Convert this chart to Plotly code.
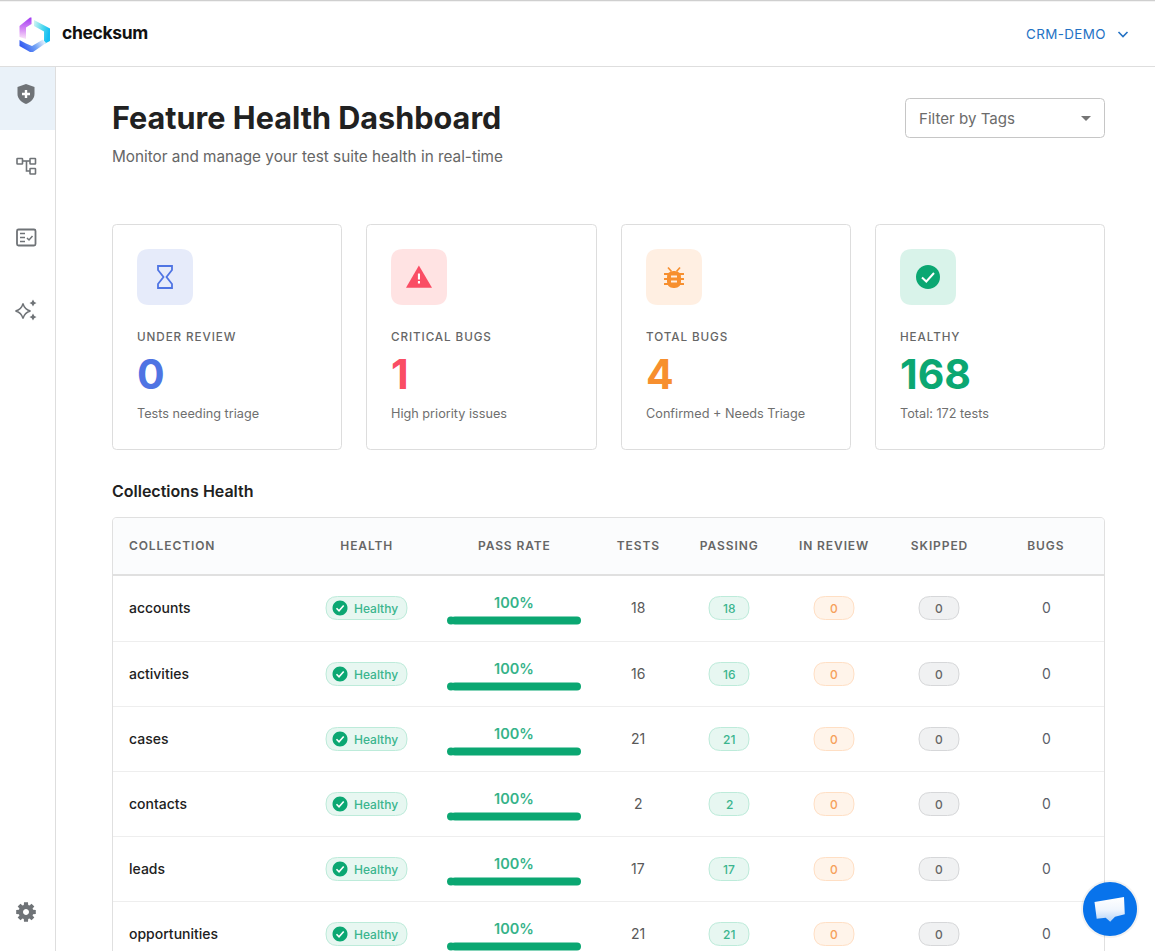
import base64
import math
import plotly.graph_objects as go

# chart data
collections = ["accounts", "activities", "cases", "contacts", "leads", "opportunities"]
pass_rate = [100, 100, 100, 100, 100, 100]
tests = [18, 16, 21, 2, 17, 21]
passing = [18, 16, 21, 2, 17, 21]
in_review = [0, 0, 0, 0, 0, 0]
skipped = [0, 0, 0, 0, 0, 0]
bugs = [0, 0, 0, 0, 0, 0]
health = ["Healthy", "Healthy", "Healthy", "Healthy", "Healthy", "Healthy"]

headers = ["COLLECTION", "HEALTH", "PASS RATE", "TESTS", "PASSING", "IN REVIEW", "SKIPPED", "BUGS"]

card_labels = ["UNDER REVIEW", "CRITICAL BUGS", "TOTAL BUGS", "HEALTHY"]
card_values = ["0", "1", "4", "168"]
card_notes = ["Tests needing triage", "High priority issues", "Confirmed + Needs Triage", "Total: 172 tests"]

# layout of the page, in screen pixels
W, H = 1155, 951
FONT = "Inter"
GREEN = "#0BA772"
GREY_ICON = "#6F7377"
card_left = [112.5, 366.5, 621.5, 875.5]
card_right = [341.5, 596.5, 850.5, 1104.5]
card_colors = ["#4F74E3", "#FA4D64", "#F78F2E", "#0BA772"]
card_tints = ["#E6EBFA", "#FFE3E3", "#FFEFE2", "#D9F3EA"]
row_y = [608, 674, 739, 804, 869, 934]
col_x = [129, 366.5, 514, 638, 729, 834, 939, 1046]
BAR_LEFT, BAR_RIGHT = 447, 581

shapes = []
notes = []


def add(path, fill="rgba(0,0,0,0)", line=None, w=1, layer="below"):
    shapes.append(dict(type="path", path=path, fillcolor=fill, layer=layer, xref="x", yref="y",
                       line=dict(color=line if line else "rgba(0,0,0,0)", width=w if line else 0)))


def rrect(x0, y0, x1, y1, r):
    return (f"M{x0+r},{y0} L{x1-r},{y0} Q{x1},{y0} {x1},{y0+r} L{x1},{y1-r} Q{x1},{y1} {x1-r},{y1} "
            f"L{x0+r},{y1} Q{x0},{y1} {x0},{y1-r} L{x0},{y0+r} Q{x0},{y0} {x0+r},{y0} Z")


def circle(cx, cy, r):
    k = r * 0.5523
    return (f"M{cx-r},{cy} C{cx-r},{cy-k} {cx-k},{cy-r} {cx},{cy-r} C{cx+k},{cy-r} {cx+r},{cy-k} {cx+r},{cy} "
            f"C{cx+r},{cy+k} {cx+k},{cy+r} {cx},{cy+r} C{cx-k},{cy+r} {cx-r},{cy+k} {cx-r},{cy} Z")


def poly(pts, close=True):
    p = "M" + " L".join(f"{x},{y}" for x, y in pts)
    return p + " Z" if close else p


def text(x, y, s, size, color, weight=400, anchor="left"):
    # annotations sit a little right and low of the given spot
    if anchor == "left":
        x -= 1.5
    notes.append(dict(x=x, y=y - 1, text=s, xref="x", yref="y", showarrow=False, xanchor=anchor, yanchor="middle",
                      align=anchor, borderpad=0, font=dict(family=FONT, size=size, color=color, weight=weight)))


def star(cx, cy, r):
    k = r * 0.2
    return (f"M{cx},{cy-r} Q{cx+k},{cy-k} {cx+r},{cy} Q{cx+k},{cy+k} {cx},{cy+r} "
            f"Q{cx-k},{cy+k} {cx-r},{cy} Q{cx-k},{cy-k} {cx},{cy-r} Z")


def gear(cx, cy, r, teeth=8):
    pts = []
    for i in range(teeth):
        a = 2 * math.pi * i / teeth
        for da, rad in [(-0.30, r * 0.74), (-0.20, r), (0.20, r), (0.30, r * 0.74)]:
            pts.append((cx + rad * math.cos(a + da), cy + rad * math.sin(a + da)))
    return poly(pts)


# top bar and side bar
add(poly([(0, 0.5), (W, 0.5)], False), line="#CFCFCF", w=1.5)
add(poly([(0, 66.5), (W, 66.5)], False), line="#DEDEDE", w=1)
add(rrect(0, 67, 55, 130, 0), fill="#EAF2F9")
add(poly([(55.5, 67), (55.5, H)], False), line="#DEDEDE", w=1)
text(62, 33.5, "checksum", 17.5, "#111111", 700)
text(1026, 35, "CRM-DEMO", 13.4, "#2472C4", 400)
add(poly([(1118.5, 32), (1123, 36.5), (1127.5, 32)], False), line="#2472C4", w=1.6)

# sidebar icons
add("M26,84 L34.5,87 L34.5,94 C34.5,98.5 31,102 26,104 C21,102 17.5,98.5 17.5,94 L17.5,87 Z", fill=GREY_ICON)
add(poly([(24.8, 90), (27.2, 90), (27.2, 92.8), (30, 92.8), (30, 95.2), (27.2, 95.2), (27.2, 98),
          (24.8, 98), (24.8, 95.2), (22, 95.2), (22, 92.8), (24.8, 92.8)]), fill="#FFFFFF")
add(rrect(17, 158.5, 22.5, 164, 0.5), line=GREY_ICON, w=1.6)
add(rrect(30, 158.5, 35.5, 164, 0.5), line=GREY_ICON, w=1.6)
add(rrect(30, 168.5, 35.5, 174, 0.5), line=GREY_ICON, w=1.6)
add(poly([(22.5, 161), (30, 161)], False), line=GREY_ICON, w=1.6)
add(poly([(26.5, 161), (26.5, 171), (30, 171)], False), line=GREY_ICON, w=1.6)
add(rrect(17, 229.5, 35.5, 245.5, 1.5), line=GREY_ICON, w=1.8)
for ly in (233.5, 237.5, 241.5):
    add(poly([(20, ly), (25, ly)], False), line=GREY_ICON, w=1.5)
add(poly([(27, 238), (29, 240), (32.5, 236)], False), line=GREY_ICON, w=1.5)
add(star(23, 311, 7.5), line=GREY_ICON, w=1.4)
add(star(33, 303, 3.5), fill=GREY_ICON)
add(star(33, 317, 3.5), fill=GREY_ICON)
add(gear(26, 912, 10), fill=GREY_ICON)
add(circle(26, 912, 3), fill="#FFFFFF")

# heading and filter box
text(112.5, 118.5, "Feature Health Dashboard", 30.6, "#212121", 700)
text(112.5, 157.5, "Monitor and manage your test suite health in real-time", 15.3, "#666666")
add(rrect(905.5, 98.5, 1104.5, 137.5, 4), fill="#FFFFFF", line="#C6C6C6", w=1)
text(919, 119, "Filter by Tags", 15.1, "#6B6B6B")
add(poly([(1081, 116), (1091, 116), (1086, 121)]), fill="#757575")

# stat cards
for i in range(4):
    x0, x1 = card_left[i], card_right[i]
    add(rrect(x0, 224.5, x1, 449.5, 4), fill="#FFFFFF", line="#DDDDDD", w=1)
    add(rrect(x0 + 24.5, 249, x0 + 80.5, 305, 12), fill=card_tints[i])
    text(x0 + 25, 338, card_labels[i], 11.7, "#666666", 500)
    text(x0 + 25, 375, card_values[i], 41, card_colors[i], 700)
    text(x0 + 25, 414.5, card_notes[i], 12.7, "#6F6F6F")

add("M158,266 L172,266 L172,270 L166.5,277 L172,284 L172,288 L158,288 L158,284 L163.5,277 L158,270 Z",
    line=card_colors[0], w=1.8)
add(poly([(418.9, 265.5), (432, 287.8), (406, 287.8)]), fill=card_colors[1])
add(rrect(417.9, 273.5, 420, 279.5, 0.3), fill="#FFFFFF")
add(rrect(417.9, 281, 420, 283.5, 0.3), fill="#FFFFFF")
add(rrect(667, 271, 681, 288, 6.5), fill=card_colors[2])
for ly in (274, 279, 284):
    add(rrect(664, ly - 1, 684, ly + 1, 0.3), fill=card_colors[2])
add(poly([(668, 267.5), (671.5, 271.5)], False), line=card_colors[2], w=1.6)
add(poly([(680, 267.5), (676.5, 271.5)], False), line=card_colors[2], w=1.6)
add(rrect(671, 275.5, 677, 277.5, 0.3), fill=card_tints[2])
add(rrect(671, 280.5, 677, 282.5, 0.3), fill=card_tints[2])
add(circle(928, 277, 12), fill=card_colors[3])
add(poly([(922, 277.5), (926.3, 281.5), (934, 273)], False), line="#FFFFFF", w=2)

# table frame
text(112.5, 491.5, "Collections Health", 16, "#212121", 600)
add(f"M112.5,{H+10} L112.5,522 Q112.5,517.5 117,517.5 L1100,517.5 Q1104.5,517.5 1104.5,522 L1104.5,{H+10} Z",
    fill="#FFFFFF", line="#E0E0E0", w=1)
add("M113,574 L113,522 Q113,518 117,518 L1100,518 Q1104,518 1104,522 L1104,574 Z", fill="#FBFCFD")
add(poly([(113, 575), (1104, 575)], False), line="#E0E0E0", w=2)
for i, h in enumerate(headers):
    text(col_x[i], 546, h, 12, "#666666", 600, "left" if i == 0 else "center")
for y in (641.5, 706.5, 771.5, 836.5, 901.5):
    add(poly([(113, y), (1104, y)], False), line="#EEEEEE", w=1)


def pill(cx, y, half, fill, edge):
    add(rrect(cx - half, y - 11.5, cx + half, y + 11.5, 11.5), fill=fill, line=edge, w=1)


for i, y in enumerate(row_y):
    text(col_x[0], y, collections[i], 14, "#212121", 500)

    pill(col_x[1], y, 40.5, "#E7F7F1", "#BDEBDA")
    add(circle(340, y, 7.5), fill=GREEN)
    add(poly([(336.5, y + 0.3), (339, y + 2.8), (343.7, y - 2.5)], False), line="#FFFFFF", w=1.6)
    text(375.5, y + 1, health[i], 12, "#3BB58E", 500, "center")

    text(col_x[2], y - 5, f"{pass_rate[i]}%", 14.5, "#35B389", 600, "center")
    text(col_x[3], y + 0.5, str(tests[i]), 14, "#595959", 400, "center")

    pill(col_x[4], y, 20, "#E7F7F1", "#BDEBDA")
    text(col_x[4], y + 1, str(passing[i]), 12, "#3BB58E", 500, "center")
    pill(col_x[5], y, 20, "#FFF4EA", "#FFDFC4")
    text(col_x[5], y + 1, str(in_review[i]), 12, "#F6A05A", 500, "center")
    pill(col_x[6], y, 20, "#F0F1F2", "#D6D7D9")
    text(col_x[6], y + 1, str(skipped[i]), 12, "#666666", 500, "center")
    text(col_x[7], y + 0.5, str(bugs[i]), 14, "#5B6068", 400, "center")

# chat button, the bubble image has to stay on top of it
add(circle(1110, 909, 29), fill="rgba(0,0,0,0.05)")
add(circle(1110, 909, 27), fill="#0873EB")

logo_svg = """<svg xmlns="http://www.w3.org/2000/svg" viewBox="19 16 32 37" width="320" height="370">
<defs>
<linearGradient id="a" x1="0" y1="0" x2="0" y2="1"><stop offset="0" stop-color="#A23BF2"/><stop offset="0.55" stop-color="#D68CF5"/><stop offset="1" stop-color="#FBE6F8"/></linearGradient>
<linearGradient id="b" x1="0" y1="0" x2="1" y2="0.3"><stop offset="0" stop-color="#D6F5F2"/><stop offset="0.6" stop-color="#4FD8EE"/><stop offset="1" stop-color="#13BDF2"/></linearGradient>
<linearGradient id="c" x1="0" y1="0.6" x2="1" y2="0.3"><stop offset="0" stop-color="#2B50F0"/><stop offset="0.55" stop-color="#6FA0F5"/><stop offset="1" stop-color="#E8F3FC"/></linearGradient>
</defs>
<path fill="url(#a)" d="M19.5,26 L30,17.5 L31.5,17.5 L31.5,24 L26,27.5 L26,39 L19.5,37 Z"/>
<path fill="url(#b)" d="M34,20 L50,28.5 L50,41 L44,44 L44,31.5 L34,26 Z"/>
<path fill="url(#c)" d="M19.5,40 L26,43.5 L32,46 L43,39.5 L46,43 L33,52 L30,52 L19.5,46 Z"/>
</svg>"""

bubble_svg = """<svg xmlns="http://www.w3.org/2000/svg" viewBox="1092 895 35 29" width="350" height="290">
<defs><linearGradient id="d" x1="0" y1="0" x2="0" y2="1"><stop offset="0" stop-color="#FFFFFF"/><stop offset="0.5" stop-color="#F0F6FE"/><stop offset="1" stop-color="#B4D3F7"/></linearGradient></defs>
<path fill="url(#d)" d="M1094.5,902 L1124,897 L1124.8,914.3 L1115,916.7 L1110.2,921.7 L1105.7,917.7 L1096.7,918.7 Z"/>
</svg>"""


def svg_src(s):
    return "data:image/svg+xml;base64," + base64.b64encode(s.encode()).decode()


images = [
    dict(source=svg_src(logo_svg), x=19, y=16, sizex=32, sizey=37, xref="x", yref="y", xanchor="left",
         yanchor="top", sizing="stretch", layer="above"),
    dict(source=svg_src(bubble_svg), x=1092, y=895, sizex=35, sizey=29, xref="x", yref="y", xanchor="left",
         yanchor="top", sizing="stretch", layer="above"),
]

# pass rate bars go through their own 0-100 axis
cap = 3
bar_y = [y + 12.5 for y in row_y]
fig = go.Figure()
fig.add_trace(go.Bar(x=[r - cap for r in pass_rate], base=cap, y=bar_y, orientation="h", width=8, xaxis="x2", yaxis="y",
                     marker=dict(color=GREEN, line=dict(width=0)), hoverinfo="skip", showlegend=False))
fig.add_trace(go.Scatter(x=[cap] * len(bar_y), y=bar_y, mode="markers", xaxis="x2", yaxis="y",
                         marker=dict(color=GREEN, size=8, line=dict(width=0)), hoverinfo="skip", showlegend=False))

fig.update_layout(
    width=W, height=H, margin=dict(l=0, r=0, t=0, b=0), autosize=False,
    paper_bgcolor="#FFFFFF", plot_bgcolor="rgba(0,0,0,0)", barcornerradius=4,
    xaxis=dict(range=[0, W], visible=False, fixedrange=True, domain=[0, 1]),
    xaxis2=dict(range=[0, 100], visible=False, fixedrange=True, anchor="y",
                domain=[BAR_LEFT / W, BAR_RIGHT / W]),
    yaxis=dict(range=[H, 0], visible=False, fixedrange=True, domain=[0, 1]),
    shapes=shapes, annotations=notes, images=images,
)

# letter spacing on the caps labels, plotly has no option for it
spacing = """
document.body.style.margin = '0';
document.body.style.overflow = 'hidden';
document.querySelectorAll('.annotation-text').forEach(function (t) {
    var s = t.textContent;
    if (s === 'CRM-DEMO') { t.style.letterSpacing = '0.4px'; }
    else if (s === 'checksum') { t.style.letterSpacing = '-0.35px'; }
    else if (s === s.toUpperCase() && /[A-Z]{3}/.test(s)) { t.style.letterSpacing = '0.9px'; }
});
"""
fig.write_html("out.html", config=dict(displayModeBar=False), post_script=spacing)
